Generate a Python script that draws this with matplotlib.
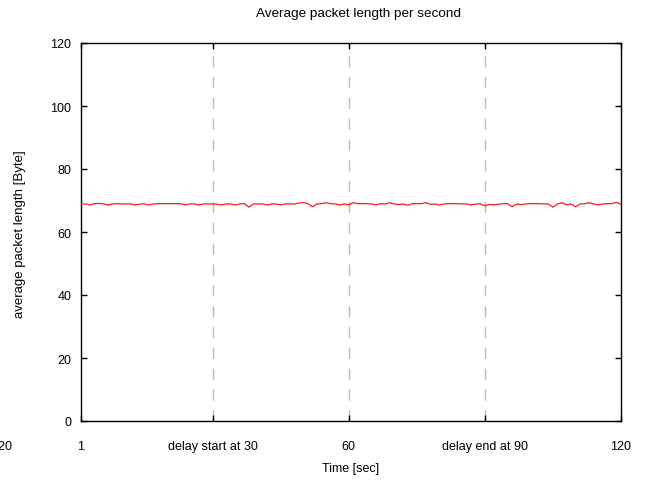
import matplotlib
matplotlib.use("Agg")
import matplotlib.pyplot as plt
import numpy as np

plt.rcParams['font.family'] = ['Liberation Sans', 'DejaVu Sans']

time_sec = list(range(1, 121))
avg_len = [68.9, 68.9, 68.6, 69.0, 69.1, 68.9, 68.6, 68.9, 69.0, 68.9,
           68.9, 68.9, 68.6, 68.9, 68.9, 68.6, 68.9, 69.0, 69.0, 69.0,
           69.0, 69.0, 69.0, 68.6, 68.9, 68.9, 68.6, 68.9, 68.9, 68.9,
           68.8, 68.6, 68.9, 68.9, 68.6, 68.9, 69.0, 67.9, 68.9, 68.9,
           68.9, 68.6, 68.9, 68.9, 68.6, 68.9, 68.9, 68.9, 69.2, 69.4,
           69.0, 68.0, 68.9, 69.0, 69.3, 69.0, 68.9, 68.6, 68.9, 68.6,
           69.3, 69.0, 69.0, 69.0, 68.9, 68.6, 69.0, 68.9, 69.3, 68.9,
           68.7, 68.9, 68.5, 69.0, 69.0, 69.0, 69.3, 68.8, 68.9, 68.6,
           68.9, 69.0, 69.0, 69.0, 68.9, 68.9, 68.6, 68.9, 68.9, 68.3,
           68.8, 68.6, 68.8, 69.0, 69.0, 68.0, 68.9, 68.7, 68.9, 69.0,
           69.0, 69.0, 68.9, 68.9, 67.9, 68.9, 69.3, 68.6, 68.9, 68.0,
           68.9, 69.0, 69.3, 68.9, 68.6, 68.9, 69.0, 69.0, 69.4, 68.8]

xtick_pos = [1, 30, 60, 90, 120]
xtick_labels = ["1", "delay start at 30", "60", "delay end at 90", "120"]
grid_x = [30, 60, 90]
ytick_pos = [0, 20, 40, 60, 80, 100, 120]

W, H = 652, 485
fig = plt.figure(figsize=(W / 100, H / 100), dpi=100)
ax = fig.add_axes([81 / W, 1 - 422 / H, 540 / W, 378 / H])

for gx in grid_x:
    ax.axvline(gx, color='#bbbbbb', lw=1.0, dashes=(8, 7), zorder=1)

ax.plot(time_sec, avg_len, color='#ff1a1a', lw=0.9, zorder=3)

ax.set_xlim(1, 120)
ax.set_ylim(0, 120)
ax.set_xticks(xtick_pos)
ax.set_xticklabels(xtick_labels)
ax.set_yticks(ytick_pos)
ax.tick_params(direction='in', length=4, width=1, top=True, right=True,
               labelsize=9, colors='black')
ax.tick_params(axis='x', pad=14)
ax.tick_params(axis='y', pad=7)
for s in ax.spines.values():
    s.set_linewidth(1.0)

fig.text(358 / W, 1 - 14 / H, "Average packet length per second",
         fontsize=9.7, ha='center', va='center')
fig.text(351 / W, 1 - 469 / H, "Time [sec]", fontsize=9, ha='center', va='center')
fig.text(20 / W, 1 - 234 / H, "average packet length [Byte]", fontsize=9.5,
         ha='center', va='center', rotation=90)

fig.text(1.5 / W, 1 - 447 / H, "120", fontsize=9, ha='center', va='center')

fig.savefig("out.png", dpi=100)
